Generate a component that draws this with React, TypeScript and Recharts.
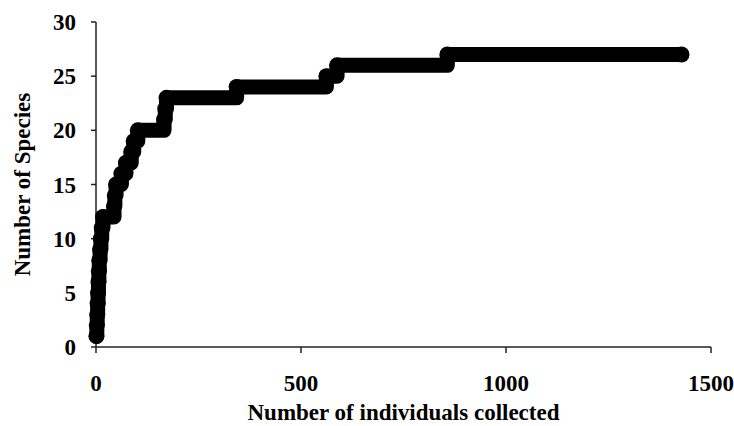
import React from 'react';
import { LineChart, Line, XAxis, YAxis } from 'recharts';

// individual count at which each new species turned up (last entry = end of sampling)
const individuals = [1, 2, 3, 4, 5, 6, 7, 8, 10, 12, 14, 17, 44, 46, 49, 62, 73, 86, 92, 102, 166, 169, 172, 343, 562, 588, 857, 1428];
const species = [1, 2, 3, 4, 5, 6, 7, 8, 9, 10, 11, 12, 13, 14, 15, 16, 17, 18, 19, 20, 21, 22, 23, 24, 25, 26, 27, 27];

const xTicks = [0, 500, 1000, 1500];
const yTicks = [0, 5, 10, 15, 20, 25, 30];

const data = individuals.map((n, i) => ({ n, s: species[i] }));

const font = '"Liberation Serif", "Times New Roman", serif';
const axisColor = '#222';
const textStyle = { fill: '#000', fontSize: 23, fontWeight: 700, fontFamily: font };

export default function App() {
  return (
    <div style={{ position: 'absolute', left: 0, top: 0, width: 734, height: 426, background: '#fff' }}>
      <LineChart width={734} height={426} data={data} margin={{ top: 22, right: 23, bottom: 6, left: 0 }}>
        <XAxis
          dataKey="n"
          type="number"
          domain={[0, 1500]}
          ticks={xTicks}
          height={73}
          stroke={axisColor}
          strokeWidth={1.5}
          tickSize={6}
          tickMargin={22}
          tick={textStyle}
          label={{ value: 'Number of individuals collected', position: 'insideBottom', offset: 0, ...textStyle }}
        />
        <YAxis
          dataKey="s"
          type="number"
          domain={[0, 30]}
          ticks={yTicks}
          width={96}
          stroke={axisColor}
          strokeWidth={1.5}
          tickSize={5}
          tickMargin={15}
          tick={textStyle}
          label={{ value: 'Number of Species', angle: -90, position: 'insideLeft', offset: 22, ...textStyle, style: { textAnchor: 'middle' } }}
        />
        <Line
          type="stepAfter"
          dataKey="s"
          stroke="#000"
          strokeWidth={15}
          strokeLinecap="round"
          strokeLinejoin="round"
          dot={{ r: 8, fill: '#000', stroke: 'none' }}
          activeDot={false}
          isAnimationActive={false}
        />
      </LineChart>
    </div>
  );
}
